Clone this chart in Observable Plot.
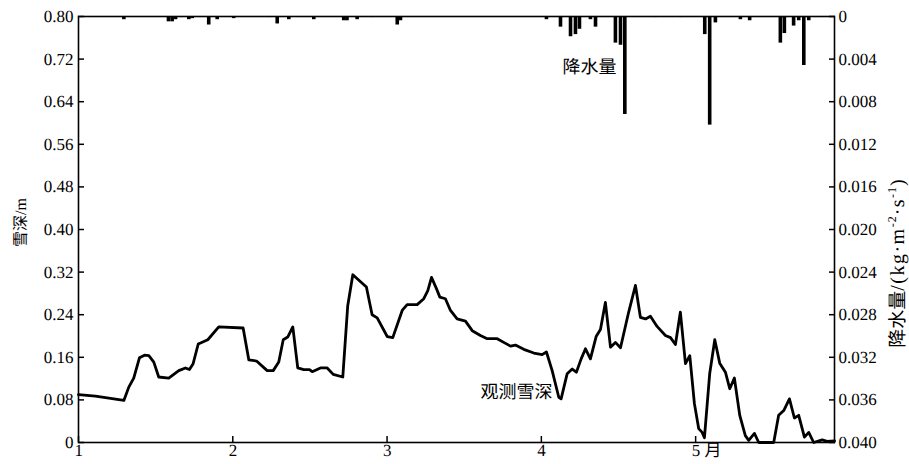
<!DOCTYPE html>
<html>
<head>
<meta charset="utf-8">
<script src="https://cdn.jsdelivr.net/npm/d3@7"></script>
<script src="https://cdn.jsdelivr.net/npm/@observablehq/plot@0.6"></script>
<style>
  html, body { margin: 0; padding: 0; background: #fff; }
  #chart svg { display: block; text-rendering: geometricPrecision; }
</style>
</head>
<body>
<div id="chart"></div>
<script>
// ---- data (x in months; snow depth in m; precipitation in kg·m-2·s-1)
const snowMonth = [1.000,1.110,1.294,1.326,1.358,1.395,1.428,1.456,1.488,1.520,1.585,1.650,1.693,1.719,1.743,1.776,1.838,1.909,
  2.067,2.104,2.154,2.223,2.262,2.298,2.327,2.356,2.389,2.421,2.460,2.497,2.515,2.568,2.612,2.651,2.713,2.745,2.778,2.866,2.903,2.936,3.001,3.037,
  3.098,3.130,3.195,3.238,3.264,3.288,3.320,3.342,3.378,3.411,3.454,3.508,3.552,3.605,3.649,3.714,3.756,3.800,3.832,3.886,3.951,4.005,4.033,4.070,4.113,
  4.128,4.167,4.200,4.227,4.258,4.286,4.318,4.355,4.383,4.415,4.448,4.480,4.513,4.566,4.610,4.642,4.675,4.707,4.750,4.804,4.837,4.869,4.901,4.934,4.962,4.992,5.020,
  5.042,5.057,5.091,5.124,5.156,5.193,5.221,5.251,5.286,5.322,5.344,5.381,5.409,5.506,5.538,5.571,5.608,5.640,5.668,5.705,5.733,5.765,5.820,5.852,5.900];
const snowDepth = [0.090,0.087,0.079,0.104,0.121,0.159,0.164,0.163,0.151,0.123,0.121,0.135,0.140,0.137,0.148,0.185,0.193,0.217,
  0.215,0.155,0.153,0.135,0.135,0.151,0.193,0.198,0.217,0.140,0.137,0.137,0.133,0.140,0.140,0.128,0.123,0.257,0.315,0.292,0.240,0.234,0.199,0.197,
  0.248,0.259,0.259,0.270,0.285,0.310,0.289,0.273,0.270,0.248,0.232,0.228,0.210,0.201,0.195,0.195,0.188,0.181,0.183,0.175,0.168,0.165,0.170,0.135,0.085,
  0.082,0.129,0.138,0.132,0.157,0.176,0.157,0.199,0.212,0.263,0.179,0.188,0.178,0.245,0.295,0.235,0.232,0.237,0.218,0.201,0.197,0.184,0.245,0.148,0.163,0.073,0.026,
  0.019,0.009,0.129,0.193,0.149,0.132,0.101,0.121,0.051,0.013,0.004,0.017,0,0,0.051,0.060,0.082,0.046,0.051,0.010,0.019,0,0.005,0.002,0.003];

const precipMonth = [1.294,1.583,1.607,1.629,1.715,1.737,1.844,1.899,2.006,2.233,2.288,2.363,2.525,2.719,2.740,2.806,2.903,3.066,3.087,
  4.033,4.124,4.189,4.221,4.247,4.318,4.351,4.480,4.513,4.541,4.740,4.902,5.059,5.091,5.128,5.290,5.350,5.549,5.575,5.635,5.668,5.701,5.733];
const precipValue = [0.0003,0.0005,0.0005,0.0003,0.0003,0.0002,0.0008,0.0003,0.0002,0.0001,0.0007,0.0003,0.0003,0.0004,0.0004,0.0003,0.0001,0.0008,0.0004,
  0.0003,0.0010,0.0019,0.0017,0.0012,0.0003,0.0010,0.0025,0.0027,0.0092,0.0001,0.0001,0.0017,0.0102,0.0006,0.0003,0.0004,0.0025,0.0016,0.0009,0.0004,0.0046,0.0004];

const xTicks = [1, 2, 3, 4, 5];
const xTickLabels = ["1", "2", "3", "4", "5 月"];
const depthTicks = [0, 0.08, 0.16, 0.24, 0.32, 0.40, 0.48, 0.56, 0.64, 0.72, 0.80];
const depthTickLabels = ["0","0.08","0.16","0.24","0.32","0.40","0.48","0.56","0.64","0.72","0.80"];
const precipTicks = [0, 0.004, 0.008, 0.012, 0.016, 0.020, 0.024, 0.028, 0.032, 0.036, 0.040];
const precipTickLabels = ["0","0.004","0.008","0.012","0.016","0.020","0.024","0.028","0.032","0.036","0.040"];

const leftTitle = "雪深/m";
const rightTitle = "降水量/(kg·m-2·s-1)";

// ---- build tables
const snow = snowMonth.map((m, i) => ({m, d: snowDepth[i]}));
const precip = precipMonth.map((m, i) => ({m, p: precipValue[i]}));

// precipitation axis is inverted and maps 0..0.04 onto 0.8..0 of the depth scale
const depthMax = 0.8, precipMax = 0.04;
const pToY = p => depthMax - p * depthMax / precipMax;
const precipPos = precipTicks.map(pToY);
const precipLabelAt = new Map(precipPos.map((y, i) => [y, precipTickLabels[i]]));
const depthLabelAt = new Map(depthTicks.map((y, i) => [y, depthTickLabels[i]]));

const font = "'Liberation Serif', 'Noto Sans CJK SC', serif";

const chart = Plot.plot({
  width: 909,
  height: 464,
  marginTop: 16,
  marginBottom: 22,
  marginLeft: 78,
  marginRight: 75,
  x: {domain: [1, 5.9]},
  y: {domain: [0, depthMax]},
  style: {fontFamily: font, fontSize: "17px", color: "#000", background: "#fff"},
  marks: [
    Plot.ruleX(precip, {x: "m", y1: depthMax, y2: d => pToY(d.p), stroke: "#000", strokeWidth: 3.6}),
    Plot.line(snow, {x: "m", y: "d", stroke: "#000", strokeWidth: 2.8, strokeLinejoin: "round"}),
    Plot.frame({stroke: "#000", strokeWidth: 1.6}),
    // inward ticks
    Plot.axisY(depthTicks, {anchor: "left", tickSize: -6, fill: "none", label: null, strokeWidth: 1.5}),
    Plot.axisY(precipPos, {anchor: "right", tickSize: -6, fill: "none", label: null, strokeWidth: 1.5}),
    Plot.axisX(xTicks, {anchor: "bottom", tickSize: -6, fill: "none", label: null, strokeWidth: 1.5}),
    // tick labels
    Plot.axisY(depthTicks, {anchor: "left", tickSize: 0, tickPadding: 5, tickFormat: d => depthLabelAt.get(d), label: null, fontSize: 17, fill: "#000"}),
    Plot.axisY(precipPos, {anchor: "right", tickSize: 0, tickPadding: 4, tickFormat: d => precipLabelAt.get(d), label: null, fontSize: 17, fill: "#000"}),
    Plot.text(xTicks, {x: d => d, text: (d, i) => xTickLabels[i], frameAnchor: "bottom", dy: 13, dx: -4, textAnchor: "start", fontSize: 17, fill: "#000"}),
    // axis titles
    Plot.text([leftTitle], {text: d => d, frameAnchor: "left", textAnchor: "middle", dx: -58, dy: -7, rotate: -90, fontSize: 16, fill: "#000"}),
    Plot.text([rightTitle], {text: d => d, frameAnchor: "right", textAnchor: "middle", dx: 63, dy: 34, rotate: -90, fontSize: 20, fill: "#000"}),
    // annotations
    Plot.text(["降水量"], {text: d => d, x: 4.312, y: 0.704, fontSize: 18, fill: "#000"}),
    Plot.text(["观测雪深"], {text: d => d, x: 3.839, y: 0.094, fontSize: 18, fill: "#000"})
  ]
});

// render superscripts in the right-axis title as real tspans
d3.select(chart).selectAll("text").filter(function () { return this.textContent === rightTitle; })
  .each(function () {
    const t = d3.select(this);
    t.text("");
    const parts = [
      {s: "降水量", size: 19, ls: 0},
      {s: "/(kg·m", size: 20, ls: 1.5},
      {s: "-2", size: 12, ls: 1, sup: true},
      {s: "·s", size: 20, ls: 1.5},
      {s: "-1", size: 12, ls: 1, sup: true},
      {s: ")", size: 20, ls: 0}
    ];
    let shifted = false;
    for (const p of parts) {
      const ts = t.append("tspan").text(p.s).attr("font-size", p.size).attr("letter-spacing", p.ls);
      if (p.sup && !shifted) { ts.attr("dy", -8); shifted = true; }
      else if (!p.sup && shifted) { ts.attr("dy", 8); shifted = false; }
    }
  });

document.getElementById("chart").appendChild(chart);
</script>
</body>
</html>
